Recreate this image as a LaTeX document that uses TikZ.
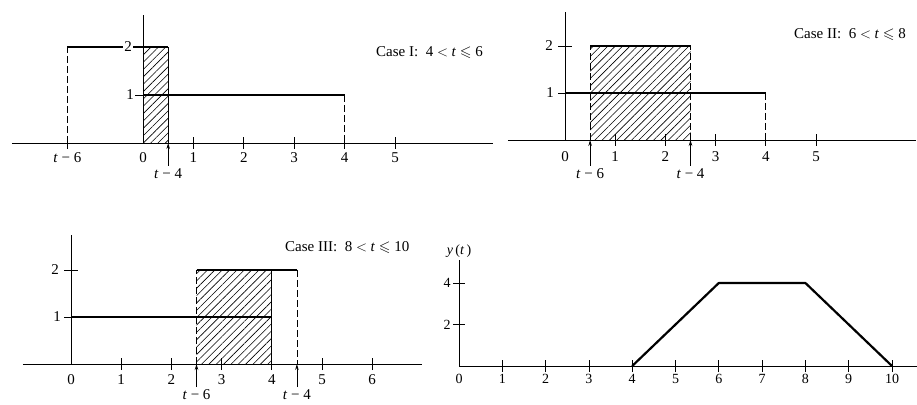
\documentclass[tikz,border=0pt]{standalone}
\usepackage{fontspec}
\setmainfont{Liberation Serif}
\usepackage{amssymb}
\usetikzlibrary{patterns.meta,arrows.meta}
\tikzset{
  axis/.style={line width=0.8pt},
  fn/.style={line width=2.2pt},
  dsh/.style={line width=0.8pt, dash pattern=on 7pt off 3pt},
  hatch/.style={pattern={Lines[angle=45,distance=5.2pt,line width=0.6pt]}},
  lbl/.style={font=\fontsize{15}{17}\selectfont, inner sep=1pt},
  slbl/.style={font=\fontsize{14}{16}\selectfont, inner sep=1pt},
  upar/.style={line width=0.8pt, -{Stealth[length=6pt,width=3.5pt]}},
}
\begin{document}
\begin{tikzpicture}[x=1pt,y=1pt]
\useasboundingbox (0,0) rectangle (917,404);

% ---------- Panel 1 (Case I) ----------
\begin{scope}[shift={(143pt,261pt)}, x=50.4pt, y=48pt]
  \fill[hatch] (0,0) rectangle (0.5,2);
  \draw[axis] (-2.6,0) -- (6.94,0);
  \draw[axis] (0,0) -- (0,2.67);
  \foreach \i in {-1.5,1,2,3,4,5} \draw[axis] (\i,0) ++(0,-6pt) -- ++(0,12pt);
  \foreach \j in {1,2} \draw[axis] (0,\j) -- ++(-8pt,0);
  \draw[dsh] (-1.5,0) -- (-1.5,2);
  \draw[fn] (-1.5,2) -- (0.5,2);
  \draw[axis] (0.5,0) -- (0.5,2);
  \draw[fn] (0,1) -- (4,1);
  \draw[dsh] (4,1) -- (4,0);
  \path (0,2) ++(-15pt,0) node[lbl, fill=white] (a2) {2};
  \path (0,1) ++(-13pt,0) node[lbl] (a1) {1};
  \foreach \i in {0,...,5} \path (\i,0) ++(0,-15pt) node[lbl] (ax\i) {\i};
  \path (-1.5,0) ++(0,-15pt) node[lbl] (atm6) {\textit{t} − 6};
  \coordinate (aar) at (0.5,0);
  \path (0.5,0) ++(0,-23pt) coordinate (aas);
  \draw[upar] (aas) -- (aar);
  \path (0.5,0) ++(0,-31pt) node[lbl] (atm4) {\textit{t} − 4};
\end{scope}
\node[lbl, anchor=west] (case1) at (375,351) {Case I:\ \ 4 \(<\) \textit{t} \(\leqslant\) 6};

% ---------- Panel 2 (Case II) ----------
\begin{scope}[shift={(565pt,264pt)}, x=50.2pt, y=47pt]
  \fill[hatch] (0.5,0) rectangle (2.5,2);
  \draw[axis] (-1.14,0) -- (7.0,0);
  \draw[axis] (0,0) -- (0,2.73);
  \foreach \i in {1,...,5} \draw[axis] (\i,0) ++(0,-6pt) -- ++(0,12pt);
  \foreach \j in {1,2} \draw[axis] (0,\j) ++(-7pt,0) -- ++(14pt,0);
  \draw[dsh] (0.5,0) -- (0.5,2);
  \draw[dsh] (2.5,0) -- (2.5,2);
  \draw[fn] (0.5,2) -- (2.5,2);
  \draw[fn] (0,1) -- (4,1);
  \draw[dsh] (4,1) -- (4,0);
  \path (0,2) ++(-16pt,0) node[lbl] (b2) {2};
  \path (0,1) ++(-15pt,0) node[lbl] (b1) {1};
  \foreach \i in {0,...,5} \path (\i,0) ++(0,-17pt) node[lbl] (bx\i) {\i};
  \coordinate (bar1) at (0.5,0);
  \path (0.5,0) ++(0,-26pt) coordinate (bas1);
  \draw[upar] (bas1) -- (bar1);
  \coordinate (bar2) at (2.5,0);
  \path (2.5,0) ++(0,-26pt) coordinate (bas2);
  \draw[upar] (bas2) -- (bar2);
  \path (0.5,0) ++(0,-34pt) node[lbl] (btm6) {\textit{t} − 6};
  \path (2.5,0) ++(0,-34pt) node[lbl] (btm4) {\textit{t} − 4};
\end{scope}
\node[lbl, anchor=west] (case2) at (793,369) {Case II:\ \ 6 \(<\) \textit{t} \(\leqslant\) 8};

% ---------- Panel 3 (Case III) ----------
\begin{scope}[shift={(71pt,40pt)}, x=50.2pt, y=47pt]
  \fill[hatch] (2.5,0) rectangle (4,2);
  \draw[axis] (-0.96,0) -- (7.0,0);
  \draw[axis] (0,0) -- (0,2.74);
  \foreach \i in {1,...,6} \draw[axis] (\i,0) ++(0,-6pt) -- ++(0,12pt);
  \foreach \j in {1,2} \draw[axis] (0,\j) ++(-7pt,0) -- ++(14pt,0);
  \draw[dsh] (2.5,0) -- (2.5,2);
  \draw[fn] (2.5,2) -- (4.5,2);
  \draw[dsh] (4.5,2) -- (4.5,0);
  \draw[axis] (4,0) -- (4,2);
  \draw[fn] (0,1) -- (4,1);
  \path (0,2) ++(-16pt,0) node[lbl] (c2) {2};
  \path (0,1) ++(-14pt,0) node[lbl] (c1) {1};
  \foreach \i in {0,...,6} \path (\i,0) ++(0,-16pt) node[lbl] (cx\i) {\i};
  \coordinate (car1) at (2.5,0);
  \path (2.5,0) ++(0,-23pt) coordinate (cas1);
  \draw[upar] (cas1) -- (car1);
  \coordinate (car2) at (4.5,0);
  \path (4.5,0) ++(0,-23pt) coordinate (cas2);
  \draw[upar] (cas2) -- (car2);
  \path (2.5,0) ++(0,-31pt) node[lbl] (ctm6) {\textit{t} − 6};
  \path (4.5,0) ++(0,-31pt) node[lbl] (ctm4) {\textit{t} − 4};
\end{scope}
\node[lbl, anchor=west] (case3) at (284,156) {Case III:\ \ 8 \(<\) \textit{t} \(\leqslant\) 10};

% ---------- Panel 4 (y(t)) ----------
\begin{scope}[shift={(459pt,38pt)}, x=43.3pt, y=20.75pt]
  \draw[axis] (0,0) -- (10.58,0);
  \draw[axis] (0,0) -- (0,5.1);
  \foreach \i in {1,...,10} \draw[axis] (\i,0) ++(0,-6pt) -- ++(0,12pt);
  \foreach \j in {2,4} \draw[axis] (0,\j) ++(-6pt,0) -- ++(12pt,0);
  \draw[fn, line join=round] (4,0) -- (6,4) -- (8,4) -- (10,0);
  \foreach \i in {0,...,10} \path (\i,0) ++(0,-13pt) node[slbl] (dx\i) {\i};
  \path (0,4) ++(-12pt,0) node[slbl] (d4) {4};
  \path (0,2) ++(-12pt,0) node[slbl] (d2) {2};
  \path (0,5.1) ++(0,9pt) node[slbl] (dy) {\textit{y}\,(\textit{t}\,)};
\end{scope}
\end{tikzpicture}
\end{document}
